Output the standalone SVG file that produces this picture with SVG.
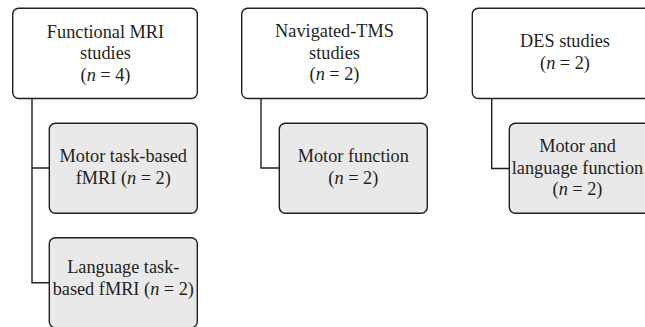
<svg xmlns="http://www.w3.org/2000/svg" width="645" height="327" viewBox="0 0 645 327">
  <style>
    .box { stroke: #231f20; stroke-width: 1.4; }
    .top { fill: #ffffff; }
    .sub { fill: #e9e9e9; }
    .lbl { font-size: 18.3px; fill: #231f20; text-anchor: middle; }
    .conn { fill: none; stroke: #231f20; stroke-width: 1.4; }
  </style>
  <rect width="645" height="327" fill="#ffffff"/>

  <g id="connectors">
    <path class="conn" d="M32,98.5 V282.7 H49.3 M32,168 H49.3"/>
    <path class="conn" d="M261,98.5 V168 H279.3"/>
    <path class="conn" d="M491.7,98.5 V168.5 H509.3"/>
  </g>

  <g font-family="'Liberation Serif', 'DejaVu Serif', serif">
  <g id="fmri">
    <rect class="box top" x="12.7" y="8.3" width="184.6" height="90.2" rx="6"/>
    <text class="lbl" x="105.5" y="37.5">Functional MRI</text>
    <text class="lbl" x="105.5" y="59">studies</text>
    <text class="lbl" x="105.5" y="80.5">(<tspan font-style="italic">n</tspan> = 4)</text>
  </g>

  <g id="fmri-motor">
    <rect class="box sub" x="49.3" y="123.3" width="148" height="90" rx="6"/>
    <text class="lbl" x="123.3" y="162">Motor task-based</text>
    <text class="lbl" x="123.3" y="184">fMRI (<tspan font-style="italic">n</tspan> = 2)</text>
  </g>

  <g id="fmri-language">
    <rect class="box sub" x="49.3" y="237.7" width="148" height="90" rx="6"/>
    <text class="lbl" x="123.3" y="273">Language task-</text>
    <text class="lbl" x="123.3" y="295">based fMRI (<tspan font-style="italic">n</tspan> = 2)</text>
  </g>

  <g id="ntms">
    <rect class="box top" x="241.7" y="8.3" width="185.6" height="90.2" rx="6"/>
    <text class="lbl" x="334.5" y="37">Navigated-TMS</text>
    <text class="lbl" x="334.5" y="58.5">studies</text>
    <text class="lbl" x="334.5" y="80">(<tspan font-style="italic">n</tspan> = 2)</text>
  </g>

  <g id="ntms-motor">
    <rect class="box sub" x="279.3" y="123.3" width="148" height="90" rx="6"/>
    <text class="lbl" x="353.3" y="162">Motor function</text>
    <text class="lbl" x="353.3" y="183.5">(<tspan font-style="italic">n</tspan> = 2)</text>
  </g>

  <g id="des">
    <rect class="box top" x="472.3" y="8.3" width="185.6" height="90.2" rx="6"/>
    <text class="lbl" x="565" y="47">DES studies</text>
    <text class="lbl" x="565" y="68.5">(<tspan font-style="italic">n</tspan> = 2)</text>
  </g>

  <g id="des-function">
    <rect class="box sub" x="509.3" y="123.3" width="148" height="90" rx="6"/>
    <text class="lbl" x="577.5" y="152">Motor and</text>
    <text class="lbl" x="577.5" y="173.5">language function</text>
    <text class="lbl" x="577.5" y="195">(<tspan font-style="italic">n</tspan> = 2)</text>
  </g>
  </g>
</svg>
